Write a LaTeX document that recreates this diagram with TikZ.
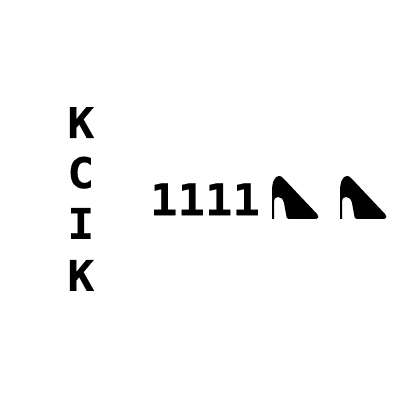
\documentclass[tikz,border=0pt]{standalone}
\usepackage{fontspec}
\newfontfamily\monofont{DejaVu Sans Mono Bold}[FakeStretch=1.05,FakeBold=0.4]
\usetikzlibrary{positioning}

\tikzset{
    heel/.pic={
        \fill[x=.025cm,y=.025cm,rounded corners=.2pt] (0,0) -- (0,28)
            .. controls (0,37) and (3,43) .. (7,43)
            .. controls (9,43) and (10,42) .. (12,40)
            -- (45,5) .. controls (47,3) and (47,0) .. (44,0)
            -- (17,0) .. controls (15,0) and (14,2) .. (14,5)
            -- (12,16) .. controls (11,20) and (9,22) .. (6,22)
            .. controls (3,22) and (2,20) .. (2,17)
            -- (2,0) -- cycle;
    }
}

\begin{document}
\begin{tikzpicture}
        \tikzstyle{every node}=[inner sep=0pt, text=black]
        \tikzstyle{letter}=[font=\fontsize{30}{30}\monofont, anchor=base]
        \tikzstyle{digits}=[font=\fontsize{31}{31}\monofont, anchor=base west]
        \useasboundingbox (0,0) rectangle (10,10);

        \node[letter] (k1) at (2.02,6.55) {K};
        \node[letter] (c) at (2.02,5.3) {C};
        \node[letter] (i) at (2.02,4.03) {I};
        \node[letter] (k2) at (2.02,2.73) {K};

        \node[digits] (num) at (3.74,4.62) {1111};
        \pic (heel1) at (6.8,4.525) {heel};
        \pic (heel2) at (8.5,4.525) {heel};
\end{tikzpicture}
\end{document}
